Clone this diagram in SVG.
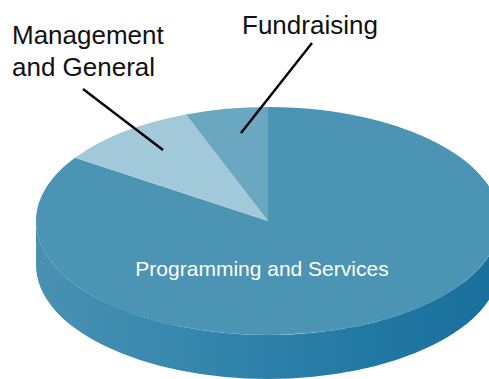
<svg xmlns="http://www.w3.org/2000/svg" width="489" height="379" viewBox="0 0 489 379">
<style>
.lbl{font-family:"Liberation Sans",Arial,sans-serif;font-size:26px;fill:#111}
.in{font-family:"Liberation Sans",Arial,sans-serif;font-size:21px;fill:#fff}
.ln{stroke:#000;stroke-width:2.4;fill:none}
</style>
<defs>
<linearGradient id="side" x1="36" y1="0" x2="500" y2="0" gradientUnits="userSpaceOnUse">
<stop offset="0" stop-color="#4891b3"/>
<stop offset="0.35" stop-color="#3586ad"/>
<stop offset="0.7" stop-color="#2279a4"/>
<stop offset="1" stop-color="#196f9b"/>
</linearGradient>
</defs>
<rect width="489" height="379" fill="#fff"/>
<g id="pie-side">
<path d="M36,221 A232,114 0 0 0 500,221 L500,265 A232,114 0 0 1 36,265 Z" fill="url(#side)"/>
</g>
<g id="programming">
<path d="M268,221 L268,107 A232,114 0 1 1 75,157.7 Z" fill="#4b94b4"/>
<text class="in" x="262" y="276" text-anchor="middle">Programming and Services</text>
</g>
<g id="management">
<path d="M268,221 L75,157.7 A232,114 0 0 1 186,114.4 Z" fill="#a2c9d9"/>
<text class="lbl" x="12" y="44">Management</text>
<text class="lbl" x="12" y="76">and General</text>
</g>
<g id="fundraising">
<path d="M268,221 L186,114.4 A232,114 0 0 1 268,107 Z" fill="#6aa7c1"/>
<text class="lbl" x="242" y="34">Fundraising</text>
</g>
<g id="connectors">
<line class="ln" x1="83" y1="89" x2="163" y2="150"/>
<line class="ln" x1="312" y1="43" x2="241" y2="133"/>
</g>
</svg>
